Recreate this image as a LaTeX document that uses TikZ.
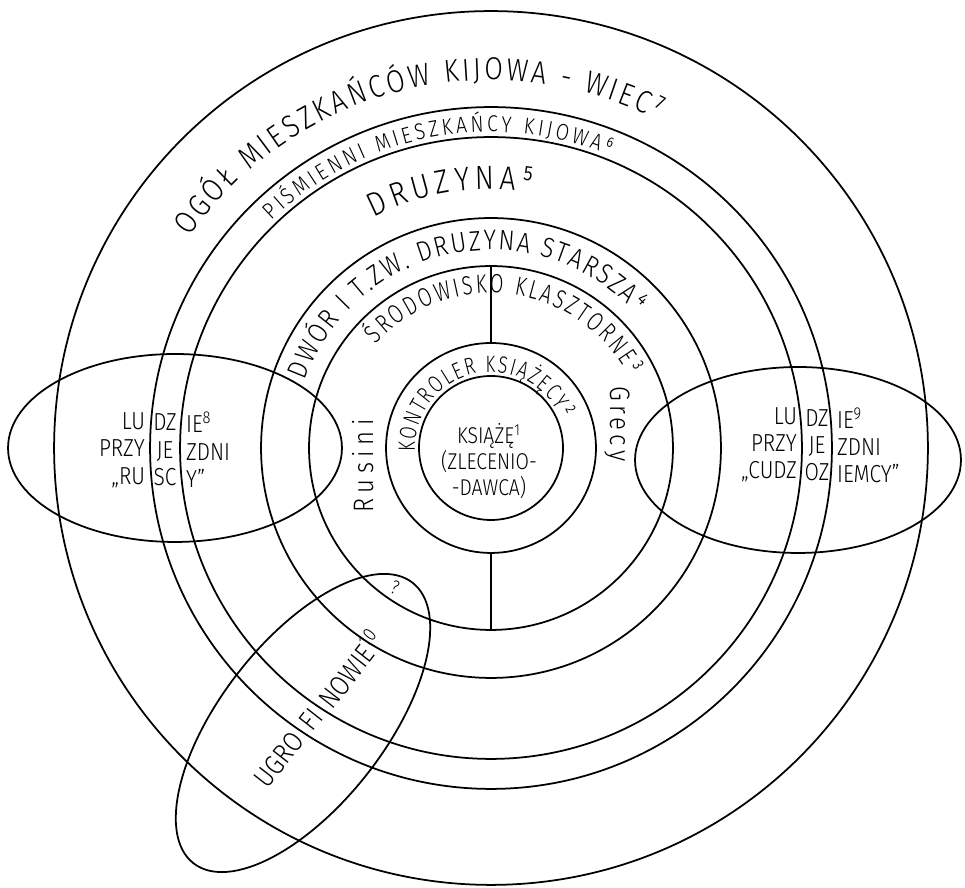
\documentclass[tikz,border=0pt]{standalone}
\usepackage{fontspec}
\setmainfont{Fira Sans Light}[FakeStretch=0.85]
\newfontfamily\narrowhand{Fira Sans Light}[FakeStretch=0.75]
\usepackage{tikz}
\usetikzlibrary{shapes.geometric}
\usetikzlibrary{decorations.text}
\tikzset{
  ring/.style={draw, circle, line width=1pt, inner sep=0pt, outer sep=0pt},
  oval/.style={draw, ellipse, line width=1pt, inner sep=0pt, outer sep=0pt},
  hand/.style={align=center, inner sep=1pt},
  arctext/.style={decorate, decoration={text along path, text align=fit to path, text={#1}}}
}

\begin{document}
\begin{tikzpicture}[x=0.02cm, y=0.02cm]
\useasboundingbox (0,0) rectangle (965,888);
\coordinate (ctr) at (491,440);
% kregi
\node[ring, minimum size=17.48cm] (wiec) at (ctr) {};
\node[ring, minimum size=13.64cm] (pismienni) at (ctr) {};
\node[ring, minimum size=12.44cm] (druzyna) at (ctr) {};
\node[ring, minimum size=9.2cm] (dwor) at (ctr) {};
\node[ring, minimum size=7.28cm] (klasztor) at (ctr) {};
\node[ring, minimum size=4.2cm] (kontroler) at (ctr) {};
\node[ring, minimum size=2.88cm] (ksiaze) at (ctr) {};
\draw[line width=1pt] (klasztor.north) -- (kontroler.north);
\draw[line width=1pt] (kontroler.south) -- (klasztor.south);
% owale
\node[oval, minimum width=6.68cm, minimum height=3.76cm] (rusowie) at (175,440) {};
\node[oval, minimum width=6.52cm, minimum height=3.72cm] (obcy) at (798,428) {};
\node[oval, minimum width=7.12cm, minimum height=3.28cm, rotate=52] (ugro) at (303,165) {};
% napisy na lukach
\path[shift={(ctr)}, arctext={|\fontsize{18}{18}\selectfont|OGÓŁ MIESZKAŃCÓW KIJOWA - WIEC⁷}]
  (145:368) arc[start angle=145, end angle=63, radius=368];
\path[shift={(ctr)}, arctext={|\fontsize{13}{13}\selectfont|PIŚMIENNI MIESZKAŃCY KIJOWA⁶}]
  (134:316) arc[start angle=134, end angle=68, radius=316];
\path[shift={(ctr)}, arctext={|\fontsize{19}{19}\selectfont|DRUZYNA⁵}]
  (117:259) arc[start angle=117, end angle=81, radius=259];
\path[shift={(ctr)}, arctext={|\fontsize{16}{16}\selectfont|DWÓR I T.ZW. DRUZYNA STARSZA⁴}]
  (160:198) arc[start angle=160, end angle=43, radius=198];
\path[shift={(ctr)}, arctext={|\narrowhand\fontsize{15}{15}\selectfont|ŚRODOWISKO KLASZTORNE³}]
  (138:155) arc[start angle=138, end angle=28, radius=155];
\path[shift={(ctr)}, arctext={|\narrowhand\fontsize{13.5}{13.5}\selectfont|KONTROLER KSIĄŻĘCY²}]
  (183:76) arc[start angle=183, end angle=23, radius=76];
% napisy
\node[hand, font=\fontsize{13}{14.8}\selectfont] (zleceniodawca) at (489,427) {KSIĄŻĘ\textsuperscript{1}\\(ZLECENIO-\\-DAWCA)};
\node[hand, font=\fontsize{16}{16}\selectfont\addfontfeatures{LetterSpace=20}, rotate=90] (rusini) at (363,422) {Rusini};
\node[hand, font=\fontsize{16}{16}\selectfont\addfontfeatures{LetterSpace=15}, rotate=-90] (grecy) at (617,464) {Grecy};
% ludzie przyjezdni ruscy
\node[hand, font=\fontsize{14}{15.6}\selectfont, align=right, anchor=east] (ruscyA) at (147,438) {LU\\PRZY\\„RU};
\node[hand, font=\fontsize{14}{15.6}\selectfont] (ruscyB) at (165,438) {DZ\\JE\\SC};
\node[hand, font=\fontsize{14}{15.6}\selectfont, align=left, anchor=west] (ruscyC) at (184,438) {IE\textsuperscript{8}\\ZDNI\\Y”};
% ludzie przyjezdni cudzoziemcy
\node[hand, font=\fontsize{14}{15.4}\selectfont, align=right, anchor=east] (obcyA) at (799,443) {LU\\PRZY\\„CUDZ};
\node[hand, font=\fontsize{14}{15.4}\selectfont] (obcyB) at (817,443) {DZ\\JE\\OZ};
\node[hand, font=\fontsize{14}{15.4}\selectfont, align=left, anchor=west] (obcyC) at (835,443) {IE\textsuperscript{9}\\ZDNI\\IEMCY”};
% ugrofinowie
\node[hand, font=\fontsize{16}{16}\selectfont, rotate=52, anchor=east] (ugroA) at (299,154) {UGRO};
\node[hand, font=\fontsize{16}{16}\selectfont, rotate=52] (ugroB) at (311,169) {FI};
\node[hand, font=\fontsize{16}{16}\selectfont, rotate=52, anchor=west] (ugroC) at (322,183) {NOWIE\textsuperscript{10}};
\node[hand, font=\fontsize{11}{11}\selectfont, rotate=-20] (pytanie) at (395,300) {?};
\end{tikzpicture}
\end{document}
